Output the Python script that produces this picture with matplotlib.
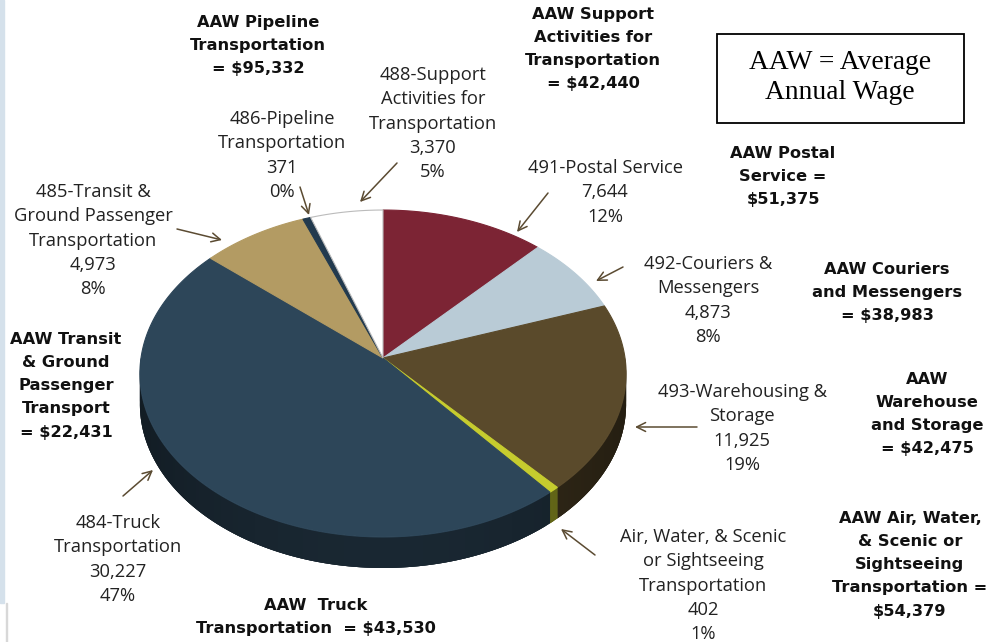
import numpy as np
import matplotlib
matplotlib.use("Agg")
import matplotlib.pyplot as plt
from matplotlib.patches import Polygon, Rectangle
import matplotlib.colors as mcolors

# ---------------- data ----------------
categories = ["491-Postal Service", "492-Couriers &\nMessengers", "493-Warehousing &\nStorage",
              "Air, Water, & Scenic\nor Sightseeing\nTransportation", "484-Truck\nTransportation",
              "485-Transit &\nGround Passenger\nTransportation", "486-Pipeline\nTransportation",
              "488-Support\nActivities for\nTransportation"]
employment = [7644, 4873, 11925, 402, 30227, 4973, 371, 3370]
value_labels = ["7,644", "4,873", "11,925", "402", "30,227", "4,973", "371", "3,370"]
pct_labels = ["12%", "8%", "19%", "1%", "47%", "8%", "0%", "5%"]
slice_colors = ["#7C2434", "#B9CBD6", "#5A4A2B", "#C6CC2E", "#2D4659", "#B39B63", "#223A4E", "#FFFFFF"]

aaw_labels = ["AAW Postal\nService =\n$51,375",
              "AAW Couriers\nand Messengers\n= $38,983",
              "AAW\nWarehouse\nand Storage\n= $42,475",
              "AAW Air, Water,\n& Scenic or\nSightseeing\nTransportation =\n$54,379",
              "AAW  Truck\nTransportation  = $43,530",
              "AAW Transit\n& Ground\nPassenger\nTransport\n= $22,431",
              "AAW Pipeline\nTransportation\n= $95,332",
              "AAW Support\nActivities for\nTransportation\n= $42,440"]
legend_note = "AAW = Average\nAnnual Wage"

# ---------------- layout (pixel-like coordinates) ----------------
W, H = 1001, 642
fig = plt.figure(figsize=(W / 100, H / 100), dpi=100)
ax = fig.add_axes([0, 0, 1, 1])
ax.set_xlim(0, W)
ax.set_ylim(H, 0)
ax.axis("off")

# left decoration strip
fig.patches.append(Rectangle((0, 0.06), 0.004, 0.94, transform=fig.transFigure,
                             color="#D5E1EB", zorder=0))
fig.patches.append(Rectangle((0.0055, 0.0), 0.0012, 0.06, transform=fig.transFigure,
                             color="#D8D8D8", zorder=0))

# perspective pie geometry
cx, cy = 383, 358
A, B, k = 242, 162, 0.0948
depth = 31


def project(theta):
    u, v = np.sin(theta), np.cos(theta)
    s = 1.0 / (1.0 + k * v)
    return cx + A * u * s, cy - B * v * s


def shade(color, f):
    r, g, b = mcolors.to_rgb(color)
    return (r * f, g * f, b * f)


def side_factor(t):
    return 0.56 - 0.16 * np.sin(t - np.pi) ** 2


vals = np.array(employment, dtype=float)
fr = vals / vals.sum()
bounds = np.concatenate([[0], np.cumsum(fr)]) * 2 * np.pi

# side walls (front half only)
for i in range(len(vals)):
    t0, t1 = bounds[i], bounds[i + 1]
    a0, a1 = max(t0, np.pi / 2), min(t1, 3 * np.pi / 2)
    if a1 <= a0:
        continue
    n = max(2, int((a1 - a0) / 0.02))
    ts = np.linspace(a0, a1, n + 1)
    xs, ys = project(ts)
    base = list(zip(xs, ys)) + list(zip(xs[::-1], ys[::-1] + depth))
    ax.add_patch(Polygon(base, closed=True, facecolor=shade(slice_colors[i], 0.48),
                         edgecolor="none", zorder=2))
    for j in range(n):
        j1 = min(n, j + 2)
        tt = ts[j:j1 + 1]
        sx, sy = project(tt)
        poly = list(zip(sx, sy)) + list(zip(sx[::-1], sy[::-1] + depth))
        f = side_factor(0.5 * (ts[j] + ts[j + 1]))
        ax.add_patch(Polygon(poly, closed=True, facecolor=shade(slice_colors[i], f),
                             edgecolor="none", zorder=2))

# top faces
for i in range(len(vals)):
    t0, t1 = bounds[i], bounds[i + 1]
    n = max(3, int((t1 - t0) / 0.01))
    ts = np.linspace(t0, t1, n)
    xs, ys = project(ts)
    pts = [(cx, cy)] + list(zip(xs, ys))
    ec = "#BBBBBB" if slice_colors[i] == "#FFFFFF" else slice_colors[i]
    ax.add_patch(Polygon(pts, closed=True, facecolor=slice_colors[i], edgecolor=ec,
                         lw=0.8, zorder=3))

# ---------------- labels ----------------
label_font = "Open Sans"
bold_font = "DejaVu Sans"
lab_size = 13.2
aaw_size = 11.7
tcol = "#222222"

cat_pos = [(605, 166), (708, 262), (742, 390), (703, 535), (118, 521), (93, 190), (282, 117), (433, 73)]
arrows = [((548, 193), (517, 232)), ((623, 267), (596, 281)), ((697, 427), (635, 427)),
          ((595, 555), (561, 529)), ((123, 496), (153, 470)), ((177, 229), (222, 240)),
          ((300, 187), (309, 215)), ((397, 163), (360, 202))]
aaw_pos = [(783, 152), (887, 268), (927, 378), (910, 517), (316, 604), (66, 338), (258, 21), (593, 13)]

for i in range(len(vals)):
    txt = f"{categories[i]}\n{value_labels[i]}\n{pct_labels[i]}"
    x, y = cat_pos[i]
    ax.text(x, y - 7, txt, ha="center", va="top", fontsize=lab_size, family=label_font,
            color=tcol, linespacing=1.45, zorder=5)
    (x0, y0), (x1, y1) = arrows[i]
    ax.annotate("", xy=(x1, y1), xytext=(x0, y0),
                arrowprops=dict(arrowstyle="->", color="#5B4B32", lw=1.1, mutation_scale=16,
                                shrinkA=0, shrinkB=0), zorder=5)
    ax_, ay_ = aaw_pos[i]
    ax.text(ax_, ay_ - 6, aaw_labels[i], ha="center", va="top", fontsize=aaw_size,
            family=bold_font, weight="bold", color="#111111", linespacing=1.68, zorder=5)

# legend note box
ax.add_patch(Rectangle((717, 34), 247, 89, facecolor="white", edgecolor="black", lw=1.3, zorder=4))
ax.text(840, 77.5, legend_note, ha="center", va="center", fontsize=19.8, family="Liberation Serif",
        color="black", linespacing=1.3, zorder=5)

fig.savefig("out.png", dpi=100)
